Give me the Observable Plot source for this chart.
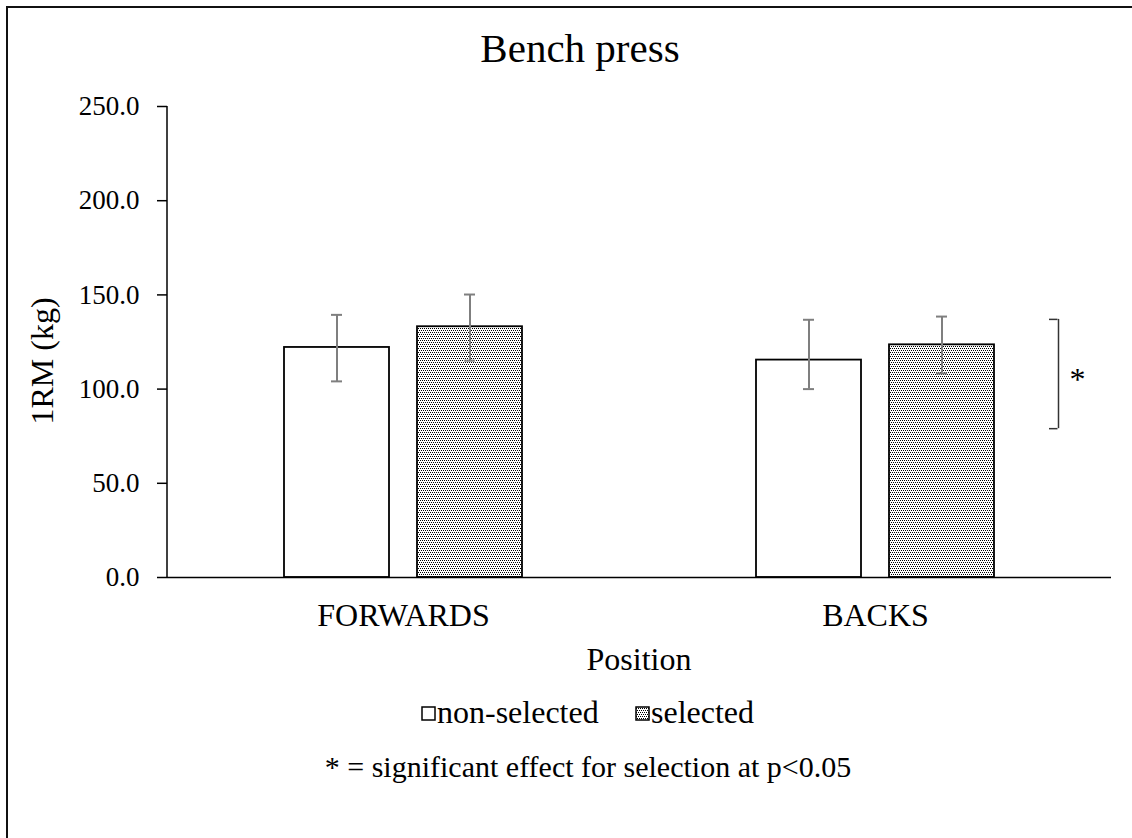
<!DOCTYPE html>
<html>
<head>
<meta charset="utf-8">
<script src="https://cdn.jsdelivr.net/npm/d3@7"></script>
<script src="https://cdn.jsdelivr.net/npm/@observablehq/plot@0.6"></script>
<style>
  html, body { margin: 0; padding: 0; background: #fff; }
  body { width: 1132px; height: 838px; overflow: hidden; position: relative; color: #000; }
  .abs { position: absolute; white-space: nowrap; line-height: 1;
         font-family: "Liberation Serif", "Times New Roman", serif; color: #000; }
  #frame { position: absolute; left: 6px; top: 6px; width: 1200px; height: 900px;
           border-left: 2px solid #111; border-top: 2px solid #111; }
  .swatch { position: absolute; }
</style>
</head>
<body>
<div id="frame"></div>
<div id="chart" class="abs" style="left:0;top:0;"></div>
<div class="abs" style="left:0;width:1160px;top:28px;font-size:41px;text-align:center;">Bench press</div>
<div class="abs" style="left:-58px;top:345px;width:200px;font-size:32px;text-align:center;transform:rotate(-90deg);">1RM (kg)</div>
<div class="abs" style="left:439px;width:400px;top:643px;font-size:32px;text-align:center;">Position</div>
<svg class="swatch" style="left:421px;top:706px;" width="16" height="16">
  <rect x="1" y="1" width="13" height="13" fill="#fff" stroke="#000" stroke-width="1.5"></rect>
</svg>
<div class="abs" style="left:437px;top:696px;font-size:32px;">non-selected</div>
<svg class="swatch" style="left:635px;top:706px;" width="16" height="16">
  <rect x="1" y="1" width="13" height="13" fill="url(#dots)" stroke="#000" stroke-width="1.5"></rect>
</svg>
<div class="abs" style="left:651px;top:696px;font-size:32px;">selected</div>
<div class="abs" style="left:288px;width:600px;top:752px;font-size:30px;text-align:center;">* = significant effect for selection at p&lt;0.05</div>

<script>
// Bench press 1RM (kg) by playing position and selection status
const positions = ["FORWARDS", "BACKS"];
const groups = ["non-selected", "selected"];

const meanNonSelected = [122.1, 115.4];
const meanSelected = [133.1, 123.5];

// error bar ends (kg)
const lowNonSelected = [104.1, 100.0];
const highNonSelected = [139.4, 136.8];
const lowSelected = [115.1, 108.3];
const highSelected = [150.2, 138.5];

const yTicks = [0, 50, 100, 150, 200, 250];

// significance bracket
const sigPositions = ["BACKS"];
const sigLow = [79];
const sigHigh = [137];
const sigLabels = ["*"];

const rows = positions.flatMap((p, i) => [
  {position: p, group: groups[0], mean: meanNonSelected[i], low: lowNonSelected[i], high: highNonSelected[i]},
  {position: p, group: groups[1], mean: meanSelected[i], low: lowSelected[i], high: highSelected[i]}
]);
const sig = sigPositions.map((p, i) => ({
  position: p, group: groups[1], low: sigLow[i], high: sigHigh[i], label: sigLabels[i]
}));

const errColor = "#7f7f7f";
const bracketColor = "#333";
const serif = "'Liberation Serif', 'Times New Roman', serif";

const marginLeft = 167;

const plot = Plot.plot({
  width: 1132,
  height: 620,
  marginTop: 106,
  marginBottom: 43,
  marginLeft,
  marginRight: 21,
  style: {fontFamily: serif, background: "transparent", color: "#000", overflow: "visible"},
  fx: {domain: positions, padding: 0, label: null},
  x: {domain: groups, paddingInner: 0.209, paddingOuter: 0.866, axis: null},
  y: {domain: [0, 250], label: null},
  color: {domain: groups, range: ["#fff", "url(#dots)"]},
  marks: [
    Plot.axisY({ticks: yTicks, tickFormat: d3.format(".1f"), tickSize: 10, tickPadding: 18,
                fontSize: 27, fontFamily: serif, label: null, strokeWidth: 1.5}),
    Plot.axisFx({anchor: "bottom", tickSize: 0, tickPadding: 26, fontSize: 32, fontFamily: serif, label: null}),
    Plot.barY(rows, {fx: "position", x: "group", y: "mean", fill: "group", stroke: "#000", strokeWidth: 1.8}),
    Plot.ruleY([0], {stroke: "#000", strokeWidth: 1.5}),
    Plot.ruleX(rows, {fx: "position", x: "group", y1: "low", y2: "high", stroke: errColor, strokeWidth: 2}),
    Plot.tickY(rows, {fx: "position", x: "group", y: "high", stroke: errColor, strokeWidth: 2, insetLeft: 47, insetRight: 47}),
    Plot.tickY(rows, {fx: "position", x: "group", y: "low", stroke: errColor, strokeWidth: 2, insetLeft: 47, insetRight: 47}),
    Plot.ruleX(sig, {fx: "position", x: "group", y1: "low", y2: "high", dx: 116.5, stroke: bracketColor, strokeWidth: 1.5}),
    Plot.tickY(sig, {fx: "position", x: "group", y: "low", dx: 116.5, insetLeft: 43.5, insetRight: 53, stroke: bracketColor, strokeWidth: 1.5}),
    Plot.tickY(sig, {fx: "position", x: "group", y: "high", dx: 116.5, insetLeft: 43.5, insetRight: 53, stroke: bracketColor, strokeWidth: 1.5}),
    Plot.text(sig, {fx: "position", x: "group", y: d => (d.low + d.high) / 2, text: "label",
                    dx: 135.5, dy: 6, fontSize: 32, fontFamily: serif, fill: "#000"})
  ]
});

const svg = d3.select(plot);

// dotted fill used by the "selected" bars and legend swatch
const defs = svg.insert("defs", ":first-child");
const pat = defs.append("pattern")
  .attr("id", "dots")
  .attr("patternUnits", "userSpaceOnUse")
  .attr("width", 4)
  .attr("height", 4);
pat.append("rect").attr("width", 4).attr("height", 4).attr("fill", "#fff");
[[0, 0], [2, 0], [1, 2], [3, 2]].forEach(([px, py]) =>
  pat.append("rect").attr("x", px).attr("y", py).attr("width", 1).attr("height", 1).attr("fill", "#000"));

// vertical value-axis line, spanning the y scale's domain
const yScale = plot.scale("y");
svg.append("line")
  .attr("x1", marginLeft).attr("x2", marginLeft)
  .attr("y1", yScale.apply(yScale.domain[0]))
  .attr("y2", yScale.apply(yScale.domain[1]))
  .attr("stroke", "#000")
  .attr("stroke-width", 1.5);

document.getElementById("chart").appendChild(plot);
</script>
</body>
</html>
